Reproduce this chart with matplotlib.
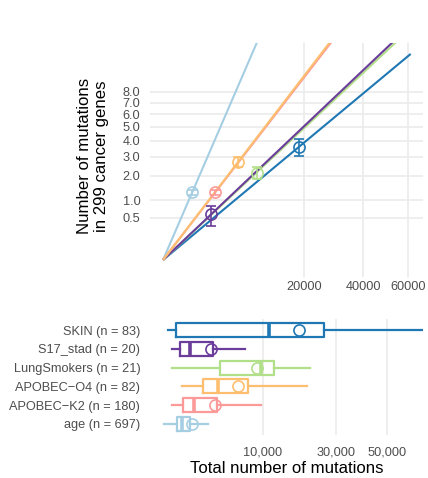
import numpy as np
import matplotlib
matplotlib.use('Agg')
import matplotlib.pyplot as plt

plt.rcParams['font.family'] = ['Liberation Sans', 'DejaVu Sans']

# groups, bottom to top in the box panel
groups = ['age', 'APOBEC\u2212K2', 'APOBEC\u2212O4', 'LungSmokers', 'S17_stad', 'SKIN']
n_samples = [697, 180, 82, 21, 20, 83]
colors = ['#A6CEE3', '#FB9A99', '#FDBF6F', '#B2DF8A', '#6A3D9A', '#1F78B4']

# mean total mutations and mean cancer-gene mutations (+ error bar ends)
mean_total = [850, 2750, 5670, 8800, 2300, 18600]
mean_genes = [1.29, 1.29, 2.73, 2.12, 0.59, 3.63]
genes_lo = [1.20, 1.20, 2.46, 1.85, 0.33, 3.06]
genes_hi = [1.38, 1.38, 3.01, 2.43, 0.82, 4.14]
# slopes of y = b * x fits
slopes = [0.001515, 0.000473, 0.000481, 0.000247, 0.000254, 0.0001955]
fit_xmax = 61350

# box stats: whisker low, q1, median, q3, whisker high
wlo = [2, 87, 350, 75, 75, 28]
q1 = [188, 388, 1600, 3210, 300, 169]
med = [350, 980, 3060, 9540, 747, 11300]
q3 = [729, 2880, 7280, 12390, 2530, 26000]
whi = [2050, 9540, 20820, 21700, 6724, 90000]

top_yticks = [0.5, 1.0, 2.0, 3.0, 4.0, 5.0, 6.0, 7.0, 8.0]
top_xticks = [20000, 40000, 60000]
bot_xticks = [10000, 30000, 50000]

def fwd(v):
    v = np.asarray(v, dtype=float)
    return np.sign(v) * np.sqrt(np.abs(v))

def inv(v):
    v = np.asarray(v, dtype=float)
    return np.sign(v) * v ** 2

grey = '#4D4D4D'
gridc = '#EBEBEB'
tick_fs = 9.2
title_fs = 12.1
W, H = 428, 478
fig = plt.figure(figsize=(W / 100, H / 100), dpi=100)

ax1 = fig.add_axes([150 / W, 1 - 277 / H, 273 / W, 234 / H])
ax2 = fig.add_axes([150 / W, 1 - 435 / H, 273 / W, 116 / H])

for ax in (ax1, ax2):
    ax.set_xscale('function', functions=(fwd, inv))
    ax.set_xlim(-169, 67600)
    for s in ax.spines.values():
        s.set_visible(False)
    ax.tick_params(length=0, labelsize=tick_fs, labelcolor=grey)
    ax.set_axisbelow(True)

# --- top panel ---
ax1.set_yscale('function', functions=(fwd, inv))
ax1.set_ylim(-0.082, 13.3)
ax1.set_yticks(top_yticks)
ax1.set_yticklabels(['%.1f' % t for t in top_yticks])
ax1.set_xticks(top_xticks)
ax1.set_xticklabels([str(t) for t in top_xticks])
ax1.minorticks_off()
ax1.grid(True, color=gridc, lw=1.2)
ax1.tick_params(axis='y', pad=7)
ax1.tick_params(axis='x', pad=3)

order = [0, 5, 3, 4, 1, 2]
for i in order:
    ax1.plot([0, fit_xmax], [0, slopes[i] * fit_xmax], color=colors[i], lw=1.5,
             solid_capstyle='butt', zorder=2)
for i in range(len(groups)):
    ax1.errorbar([mean_total[i]], [mean_genes[i]],
                 yerr=[[mean_genes[i] - genes_lo[i]], [genes_hi[i] - mean_genes[i]]],
                 fmt='o', mfc='none', mec=colors[i], ecolor=colors[i], ms=8, mew=1.2,
                 elinewidth=1.2, capsize=3.3, capthick=1.2, zorder=3)

fig.text(93 / W, 1 - 156 / H, 'Number of mutations\nin 299 cancer genes', rotation=90,
         ha='center', va='center', fontsize=title_fs, linespacing=1.2)

# --- bottom panel ---
ax2.set_ylim(0.4, 6.6)
pos = np.arange(1, len(groups) + 1)
for i in range(len(groups)):
    st = [dict(whislo=wlo[i], q1=q1[i], med=med[i], q3=q3[i], whishi=whi[i],
               mean=mean_total[i], fliers=[])]
    c = colors[i]
    ax2.bxp(st, positions=[pos[i]], widths=0.75, orientation='horizontal',
            showcaps=False, showfliers=False, showmeans=True,
            boxprops=dict(color=c, lw=1.6),
            whiskerprops=dict(color=c, lw=1.6),
            medianprops=dict(color=c, lw=2.6, solid_capstyle='butt'),
            meanprops=dict(marker='o', mfc='none', mec=c, ms=8, mew=1.2))
ax2.set_yticks(pos)
ax2.set_yticklabels(['%s (n = %d)' % (g, n) for g, n in zip(groups, n_samples)])
ax2.set_xticks(bot_xticks)
ax2.set_xticklabels(['{:,}'.format(t) for t in bot_xticks])
ax2.minorticks_off()
ax2.grid(True, axis='x', color=gridc, lw=1.2)
ax2.grid(False, axis='y')
ax2.tick_params(axis='y', pad=7)
ax2.tick_params(axis='x', pad=8)
ax2.set_xlabel('Total number of mutations', fontsize=title_fs, labelpad=2)

fig.savefig('out.png', dpi=100)
